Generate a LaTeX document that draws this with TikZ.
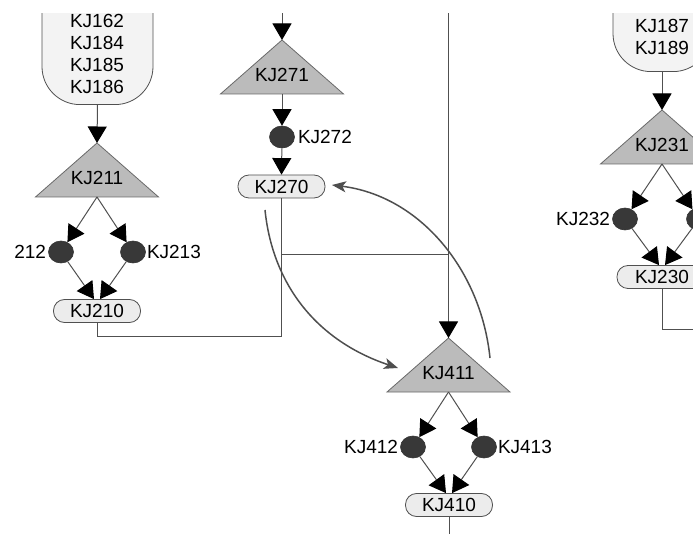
\documentclass[tikz,border=0pt]{standalone}
\usepackage{fontspec}
\setmainfont{Liberation Sans}
\usetikzlibrary{arrows.meta,shapes.geometric}

\definecolor{triFill}{RGB}{187,187,187}
\definecolor{triLine}{RGB}{105,105,105}
\definecolor{dotFill}{RGB}{56,56,56}
\definecolor{pillFill}{RGB}{236,236,236}
\definecolor{boxFill}{RGB}{243,243,243}
\definecolor{edge}{RGB}{80,80,80}
\definecolor{curve}{RGB}{78,78,78}

\tikzset{
  txt/.style={font=\fontsize{19}{21.8}\selectfont, inner sep=0pt},
  dot/.style={ellipse, minimum width=25pt, minimum height=22pt, inner sep=0pt,
    fill=dotFill, draw=black!80, line width=0.6pt},
  pill/.style={draw=edge, fill=pillFill, rounded corners=11pt, minimum width=87pt,
    minimum height=23pt, inner sep=0pt, line width=0.8pt, txt},
  bigbox/.style={draw=edge, fill=boxFill, rounded corners=38pt, inner sep=0pt, line width=0.8pt},
  tri/.style={fill=triFill, draw=triLine, line width=0.8pt},
  conn/.style={draw=edge, line width=1pt},
  arr/.style={conn, -{Triangle[length=16.5pt,width=19pt,color=black]}},
  swoop/.style={draw=curve, line width=1.5pt, -{Stealth[length=14pt,width=11pt,inset=3.5pt]}},
}

% gate triangle: name, x, apex y, label
\newcommand\kjgate[4]{%
  \coordinate (#1top) at (#2,#3);
  \coordinate (#1base) at (#2,#3+54);
  \filldraw[tri] (#1top) -- ++(61.5,54) -- ++(-123,0) -- cycle;
  \node[txt] (#1) at (#2,#3+35) {#4};}

\begin{document}
\begin{tikzpicture}[x=1pt,y=-1pt]
\useasboundingbox (0,0) rectangle (693,534);
\clip (0,14) rectangle (693,534);

% ---- left column ----
\node[bigbox, minimum width=111pt, minimum height=170pt, anchor=south] (boxL) at (97.5,105) {};
\node[txt, align=center] (listL) at (97,54) {KJ162\\KJ184\\KJ185\\KJ186};
\kjgate{g211}{97}{143}{KJ211}
\node[dot] (c212) at (61,252) {};
\node[dot] (c213) at (133,252) {};
\node[txt, anchor=east] (l212) at ([xshift=-2pt]c212.west) {212};
\node[txt, anchor=west] (l213) at ([xshift=1pt]c213.east) {KJ213};
\node[pill] (p210) at (97,311) {KJ210};

\draw[arr] (boxL.south) -- (g211top);
\draw[arr] (g211base) -- (c212);
\draw[arr] (g211base) -- (c213);
\draw[arr] (c212) -- ([xshift=-3pt]p210.north);
\draw[arr] (c213) -- ([xshift=3pt]p210.north);

% ---- middle column ----
\coordinate (in271) at (282,0);
\kjgate{g271}{282}{40}{KJ271}
\node[dot] (c272) at (282,137) {};
\node[txt, anchor=west] (l272) at ([xshift=3pt]c272.east) {KJ272};
\node[pill] (p270) at (281.5,186.5) {KJ270};

\draw[arr] (in271) -- (g271top);
\draw[arr] (g271base) -- (c272);
\draw[arr] (c272) -- (p270.north);

% joins below KJ270 and KJ210
\draw[conn] (p270.south) -- ++(0,138) -| (p210.south);
\coordinate (jA) at (282,255);
\coordinate (jB) at (448.5,255);
\draw[conn] (jA) -- (jB);

% ---- KJ411 column ----
\coordinate (in411) at (448.5,0);
\kjgate{g411}{448.5}{338}{KJ411}
\node[dot] (c412) at (413,447) {};
\node[dot] (c413) at (484,447) {};
\node[txt, anchor=east] (l412) at ([xshift=-2pt]c412.west) {KJ412};
\node[txt, anchor=west] (l413) at ([xshift=1pt]c413.east) {KJ413};
\node[pill] (p410) at (449,505) {KJ410};
\coordinate (out410) at (449,540);

\draw[arr] (in411) -- (g411top);
\draw[arr] (g411base) -- (c412);
\draw[arr] (g411base) -- (c413);
\draw[arr] (c412) -- ([xshift=-3pt]p410.north);
\draw[arr] (c413) -- ([xshift=3pt]p410.north);
\draw[conn] (p410.south) -- (out410);

% curved links between KJ270 and KJ411
\coordinate (s1) at (265,210);
\coordinate (e1) at (398,368);
\draw[swoop] (s1) .. controls (273,288) and (320,342) .. (e1);
\coordinate (s2) at (490,358);
\coordinate (e2) at (332,185);
\draw[swoop] (s2) .. controls (481,270) and (420,196) .. (e2);

% ---- right column ----
\node[bigbox, minimum width=98pt, minimum height=170pt, anchor=south] (boxR) at (662,72) {};
\node[txt, align=center] (listR) at (662,37) {KJ187\\KJ189};
\kjgate{g231}{662}{110}{KJ231}
\node[dot] (c232) at (625,219) {};
\node[dot] (c233) at (699,219) {};
\node[txt, anchor=east] (l232) at ([xshift=-2pt]c232.west) {KJ232};
\node[pill, minimum width=90pt] (p230) at (662,277) {KJ230};
\coordinate (out230) at (700,330);

\draw[arr] (boxR.south) -- (g231top);
\draw[arr] (g231base) -- (c232);
\draw[arr] (g231base) -- (c233);
\draw[arr] (c232) -- ([xshift=-3pt]p230.north);
\draw[arr] (c233) -- ([xshift=3pt]p230.north);
\draw[conn] (p230.south) |- (out230);
\end{tikzpicture}
\end{document}
